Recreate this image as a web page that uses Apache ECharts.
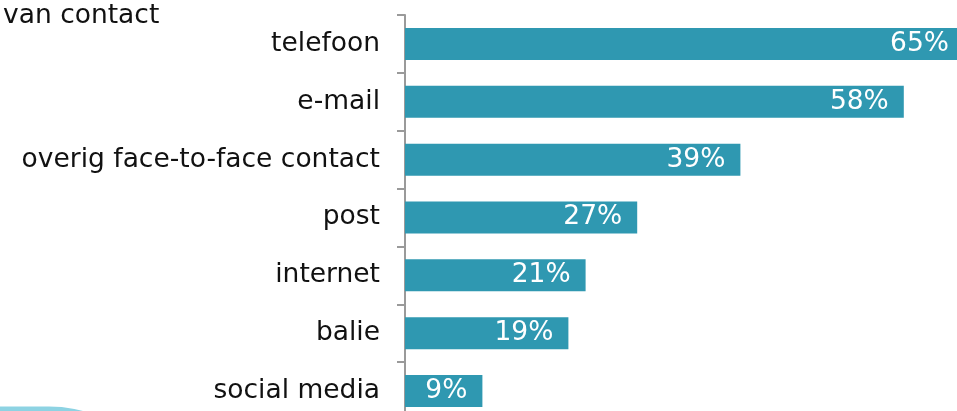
<!DOCTYPE html>
<html>
<head>
<meta charset="utf-8">
<script src="https://cdn.jsdelivr.net/npm/echarts@6/dist/echarts.min.js"></script>
<style>html,body{margin:0;padding:0;background:#fff}#c{width:957px;height:411px}</style>
</head>
<body>
<div id="c"></div>
<script>
const categories = ['telefoon', 'e-mail', 'overig face-to-face contact', 'post', 'internet', 'balie', 'social media'];
const values = [65, 58, 39, 27, 21, 19, 9];
const titleText = 'van contact';

const chart = echarts.init(document.getElementById('c'), null, {renderer: 'canvas'});
const FONT = 'DejaVu Sans';
chart.setOption({
  animation: false,
  backgroundColor: '#fff',
  title: {
    text: titleText, left: -2, top: -2,
    textStyle: {fontFamily: FONT, fontSize: 26.5, fontWeight: 'normal', color: '#111'}
  },
  graphic: [{
    type: 'rect', z: -1,
    shape: {x: -200, y: 406.5, width: 379, height: 300, r: 130},
    style: {fill: '#8dd3e3'}
  }],
  grid: {left: 405, width: 559, top: 15, height: 405, containLabel: false, outerBoundsMode: 'none'},
  xAxis: {type: 'value', min: 0, max: 65, show: false},
  yAxis: {
    type: 'category', data: categories, inverse: true,
    axisLine: {show: true, lineStyle: {color: '#9a9a9a', width: 2}},
    axisTick: {show: true, length: 8, alignWithLabel: false, lineStyle: {color: '#9a9a9a', width: 2}},
    axisLabel: {fontFamily: FONT, fontSize: 26.5, color: '#111', margin: 25},
    splitLine: {show: false}
  },
  series: [{
    type: 'bar', data: values, barWidth: 32,
    itemStyle: {color: '#2f98b1'},
    label: {
      show: true, position: 'insideRight', distance: 15,
      formatter: '{c}%', fontFamily: FONT, fontSize: 26.5, color: '#fff'
    }
  }]
});
</script>
</body>
</html>
